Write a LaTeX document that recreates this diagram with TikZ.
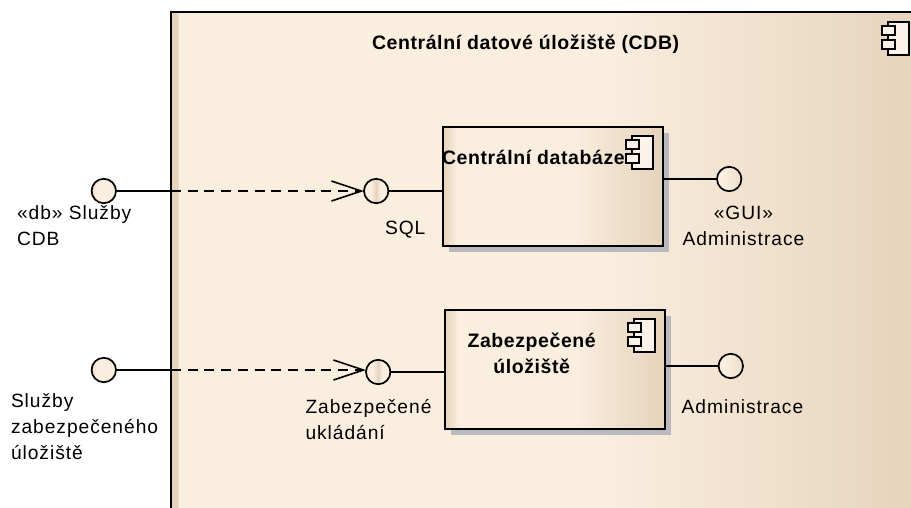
\documentclass[tikz,border=0pt]{standalone}
\usepackage{fontspec}
\setmainfont{Liberation Sans}
\usetikzlibrary{arrows.meta}
\definecolor{tandark}{HTML}{E6D3BC}
\definecolor{tanmid}{HTML}{EFDFCB}
\definecolor{tanlight}{HTML}{FAEEDF}
\definecolor{shadowgrey}{HTML}{B9B9BE}
\pgfdeclarehorizontalshading{outerfill}{100bp}{color(0bp)=(tandark);color(25bp)=(tandark);color(25.45bp)=(tandark);color(25.5bp)=(tanlight);color(54bp)=(tanlight);color(66bp)=(tanmid);color(75bp)=(tandark);color(100bp)=(tandark)}
\pgfdeclarehorizontalshading{innerfill}{100bp}{color(0bp)=(tandark);color(25bp)=(tandark);color(26.5bp)=(tanmid);color(28bp)=(tanlight);color(55bp)=(tanlight);color(65bp)=(tanmid);color(75bp)=(tandark);color(100bp)=(tandark)}
\pgfdeclarehorizontalshading{portleft}{100bp}{color(0bp)=(tanmid);color(25bp)=(tanmid);color(35bp)=(tanlight);color(100bp)=(tanlight)}
\pgfdeclarehorizontalshading{portmid}{100bp}{color(0bp)=(tanlight);color(40bp)=(tanlight);color(50bp)=(tandark);color(58bp)=(tanlight);color(100bp)=(tanlight)}
\pgfdeclarehorizontalshading{portright}{100bp}{color(0bp)=(tanlight);color(38bp)=(tanlight);color(75bp)=(tanmid);color(100bp)=(tanmid)}
\tikzset{
  x=1pt,y=-1pt,
  outerbox/.style={draw=black,line width=2pt,shading=outerfill,rectangle,anchor=north west,inner sep=0pt,outer sep=0pt},
  compbox/.style={draw=black,line width=2pt,shading=innerfill,rectangle,anchor=north west,inner sep=0pt,outer sep=0pt},
  shadowbox/.style={fill=shadowgrey,draw=none},
  port/.style={circle,draw=black,line width=1.7pt,minimum size=24.4pt,inner sep=0pt,outer sep=0pt},
  wire/.style={draw=black,line width=1.8pt},
  dep/.style={draw=black,line width=1.8pt,dash pattern=on 10pt off 6.7pt,-{Straight Barb[length=30pt,width=20pt,line width=1.6pt]}},
  lab/.style={anchor=base west,inner sep=0pt,outer sep=0pt,align=left,font=\fontsize{19.2}{25.8}\selectfont\addfontfeature{LetterSpace=5}},
  labc/.style={lab,align=center},
  head/.style={anchor=base west,inner sep=0pt,outer sep=0pt,align=center,font=\fontsize{19.5}{26}\selectfont\bfseries\addfontfeature{LetterSpace=3}},
  icon/.style={draw=black,line width=1.6pt,fill=tanlight!70!white},
  compicon/.pic={
    \draw[icon] (0,0) rectangle (21,33);
    \draw[icon] (-6,4) rectangle (7,13);
    \draw[icon] (-6,18) rectangle (7,27);
  }
}
\begin{document}
\begin{tikzpicture}
\useasboundingbox (0,0) rectangle (911,507);
\clip (0,0) rectangle (911,507);
\node[outerbox,minimum width=745pt,minimum height=505pt] (cdb) at (171,12) {};
\pic at (888,22) {compicon};
\node[head] (cdbtitle) at (372,49.3) {Centrální datové úložiště (CDB)};

\fill[shadowbox] (449,133) rectangle (669,252);
\node[compbox,minimum width=220pt,minimum height=119pt] (db) at (443,127) {};
\pic at (632,136) {compicon};
\node[head] (dbname) at (442,164) {Centrální databáze};

\fill[shadowbox] (451,316) rectangle (671,435);
\node[compbox,minimum width=220pt,minimum height=119pt] (sec) at (445,310) {};
\pic at (634,319) {compicon};
\node[head,anchor=base] (secname) at (531.7,373.3) {Zabezpečené\\úložiště};

\node[port,shading=portleft] (p1) at (103.8,191) {};
\node[port,shading=portmid] (p2) at (376.2,191) {};
\node[port,shading=portright] (p3) at (729.2,179) {};
\node[port,shading=portleft] (p4) at (103.8,370) {};
\node[port,shading=portmid] (p5) at (378.2,372) {};
\node[port,shading=portright] (p6) at (730.8,366) {};

\coordinate (b1) at (cdb.west |- p1);
\coordinate (b2) at (cdb.west |- p4);
\draw[wire] (p1.east) -- (b1);
\draw[dep] (b1) -- (p2.west);
\draw[wire] (p2.east) -- (db.west |- p2);
\draw[wire] (db.east |- p3) -- (p3.west);
\draw[wire] (p4.east) -- (b2);
\draw[dep] (b2) -- (p5.west |- b2);
\draw[wire] (p5.east) -- (sec.west |- p5);
\draw[wire] (sec.east |- p6) -- (p6.west);

\node[lab] (l1) at (17,245.7) {«db» Služby\\CDB};
\node[lab] (l2) at (385,234.3) {SQL};
\node[labc,anchor=base] (l3) at (743.5,245.7) {«GUI»\\Administrace};
\node[lab] (l4) at (11,459.3) {Služby\\zabezpečeného\\úložiště};
\node[lab] (l5) at (305.5,439.3) {Zabezpečené\\ukládání};
\node[lab] (l6) at (681.7,413.3) {Administrace};
\end{tikzpicture}
\end{document}
